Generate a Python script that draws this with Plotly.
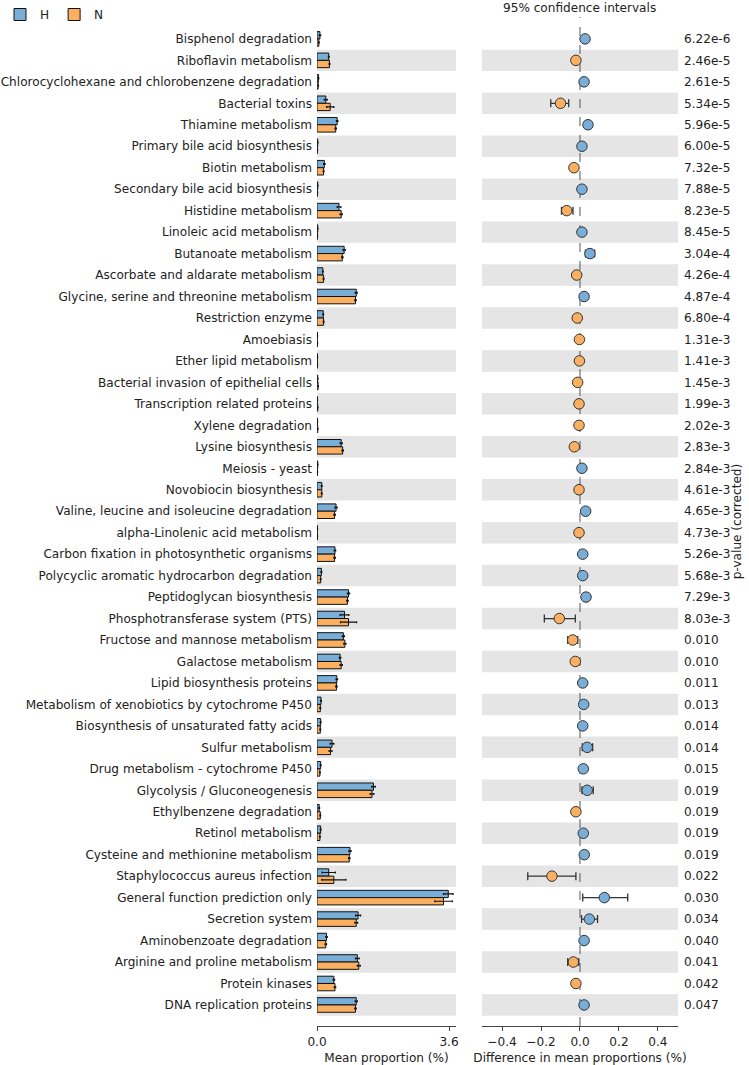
import plotly.graph_objects as go

pathways = [
    "Bisphenol degradation", "Riboflavin metabolism",
    "Chlorocyclohexane and chlorobenzene degradation", "Bacterial toxins",
    "Thiamine metabolism", "Primary bile acid biosynthesis", "Biotin metabolism",
    "Secondary bile acid biosynthesis", "Histidine metabolism",
    "Linoleic acid metabolism", "Butanoate metabolism",
    "Ascorbate and aldarate metabolism", "Glycine, serine and threonine metabolism",
    "Restriction enzyme", "Amoebiasis", "Ether lipid metabolism",
    "Bacterial invasion of epithelial cells", "Transcription related proteins",
    "Xylene degradation", "Lysine biosynthesis", "Meiosis - yeast",
    "Novobiocin biosynthesis", "Valine, leucine and isoleucine degradation",
    "alpha-Linolenic acid metabolism", "Carbon fixation in photosynthetic organisms",
    "Polycyclic aromatic hydrocarbon degradation", "Peptidoglycan biosynthesis",
    "Phosphotransferase system (PTS)", "Fructose and mannose metabolism",
    "Galactose metabolism", "Lipid biosynthesis proteins",
    "Metabolism of xenobiotics by cytochrome P450",
    "Biosynthesis of unsaturated fatty acids", "Sulfur metabolism",
    "Drug metabolism - cytochrome P450", "Glycolysis / Gluconeogenesis",
    "Ethylbenzene degradation", "Retinol metabolism",
    "Cysteine and methionine metabolism", "Staphylococcus aureus infection",
    "General function prediction only", "Secretion system",
    "Aminobenzoate degradation", "Arginine and proline metabolism",
    "Protein kinases", "DNA replication proteins",
]

mean_H = [0.08, 0.32, 0.04, 0.24, 0.55, 0.02, 0.20, 0.02, 0.60, 0.02,
          0.74, 0.16, 1.07, 0.17, 0.01, 0.01, 0.02, 0.01, 0.01, 0.66,
          0.02, 0.13, 0.52, 0.01, 0.49, 0.12, 0.86, 0.75, 0.72, 0.63,
          0.54, 0.11, 0.10, 0.41, 0.10, 1.54, 0.06, 0.10, 0.90, 0.32,
          3.58, 1.12, 0.26, 1.10, 0.46, 1.07]
mean_N = [0.05, 0.34, 0.03, 0.36, 0.51, 0.01, 0.18, 0.01, 0.66, 0.01,
          0.69, 0.18, 1.05, 0.18, 0.01, 0.01, 0.03, 0.02, 0.02, 0.70,
          0.01, 0.13, 0.48, 0.01, 0.48, 0.10, 0.83, 0.86, 0.76, 0.66,
          0.53, 0.09, 0.09, 0.37, 0.08, 1.50, 0.09, 0.08, 0.88, 0.46,
          3.45, 1.07, 0.24, 1.14, 0.49, 1.05]
sd_H = [0.02, 0.01, 0.01, 0.04, 0.02, 0.005, 0.02, 0.005, 0.05, 0.005,
        0.03, 0.01, 0.03, 0.01, 0.005, 0.005, 0.005, 0.005, 0.005, 0.03,
        0.005, 0.01, 0.03, 0.005, 0.02, 0.01, 0.03, 0.12, 0.03, 0.02,
        0.02, 0.01, 0.01, 0.05, 0.01, 0.05, 0.01, 0.01, 0.03, 0.18,
        0.13, 0.07, 0.02, 0.05, 0.02, 0.03]
sd_N = [0.01, 0.01, 0.01, 0.10, 0.02, 0.005, 0.01, 0.005, 0.03, 0.005,
        0.02, 0.01, 0.02, 0.01, 0.005, 0.005, 0.005, 0.005, 0.005, 0.02,
        0.005, 0.01, 0.02, 0.005, 0.02, 0.01, 0.02, 0.22, 0.03, 0.03,
        0.02, 0.01, 0.01, 0.04, 0.01, 0.05, 0.01, 0.01, 0.02, 0.33,
        0.24, 0.04, 0.02, 0.04, 0.02, 0.02]

diff = [0.026, -0.021, 0.021, -0.100, 0.041, 0.010, -0.031, 0.010, -0.068, 0.010,
        0.051, -0.017, 0.021, -0.014, -0.003, -0.003, -0.012, -0.005, -0.005, -0.029,
        0.010, -0.005, 0.029, -0.005, 0.014, 0.014, 0.031, -0.106, -0.037, -0.024,
        0.014, 0.019, 0.014, 0.037, 0.017, 0.037, -0.021, 0.017, 0.022, -0.144,
        0.125, 0.048, 0.021, -0.034, -0.021, 0.021]
ci_low = [0.020, -0.026, 0.016, -0.150, 0.030, 0.006, -0.037, 0.006, -0.095, 0.006,
          0.028, -0.022, 0.014, -0.019, -0.007, -0.007, -0.016, -0.009, -0.009, -0.036,
          0.006, -0.009, 0.018, -0.009, 0.009, 0.009, 0.022, -0.183, -0.063, -0.032,
          0.009, 0.013, 0.009, 0.012, 0.012, 0.010, -0.026, 0.012, 0.014, -0.268,
          0.014, 0.008, 0.015, -0.063, -0.027, 0.015]
ci_high = [0.032, -0.016, 0.026, -0.058, 0.052, 0.014, -0.025, 0.014, -0.036, 0.014,
           0.075, -0.012, 0.028, -0.009, 0.001, 0.001, -0.008, -0.001, -0.001, -0.022,
           0.014, -0.001, 0.040, -0.001, 0.019, 0.019, 0.040, -0.024, -0.012, -0.017,
           0.019, 0.025, 0.019, 0.065, 0.022, 0.068, -0.016, 0.022, 0.030, -0.021,
           0.245, 0.090, 0.027, -0.006, -0.015, 0.027]

p_values = ["6.22e-6", "2.46e-5", "2.61e-5", "5.34e-5", "5.96e-5", "6.00e-5", "7.32e-5",
            "7.88e-5", "8.23e-5", "8.45e-5", "3.04e-4", "4.26e-4", "4.87e-4", "6.80e-4",
            "1.31e-3", "1.41e-3", "1.45e-3", "1.99e-3", "2.02e-3", "2.83e-3", "2.84e-3",
            "4.61e-3", "4.65e-3", "4.73e-3", "5.26e-3", "5.68e-3", "7.29e-3", "8.03e-3",
            "0.010", "0.010", "0.011", "0.013", "0.014", "0.014", "0.015", "0.019",
            "0.019", "0.019", "0.019", "0.022", "0.030", "0.034", "0.040", "0.041",
            "0.042", "0.047"]

group_names = ["H", "N"]
group_colors = ["#78aed8", "#fbb061"]

idx = list(range(len(pathways)))
n = len(pathways)
FONT = "DejaVu Sans"
TXT = "#222222"
BAND = "#e5e5e5"
FS = 12.1

fig = go.Figure()

fig.add_trace(go.Bar(
    name=group_names[0], orientation="h", y=idx, x=mean_H,
    width=0.34, offset=-0.34,
    marker=dict(color=group_colors[0], line=dict(color="#111111", width=1)),
    error_x=dict(type="data", array=sd_H, color="#111111", thickness=1.2, width=1),
    xaxis="x", yaxis="y",
))
fig.add_trace(go.Bar(
    name=group_names[1], orientation="h", y=idx, x=mean_N,
    width=0.34, offset=0.0,
    marker=dict(color=group_colors[1], line=dict(color="#111111", width=1)),
    error_x=dict(type="data", array=sd_N, color="#111111", thickness=1.2, width=1),
    xaxis="x", yaxis="y",
))

pt_colors = [group_colors[0] if d > 0 else group_colors[1] for d in diff]
fig.add_trace(go.Scatter(
    x=diff, y=idx, mode="markers", showlegend=False,
    marker=dict(size=10.5, color=pt_colors, line=dict(color="#333333", width=1)),
    error_x=dict(type="data", symmetric=False,
                 array=[h - d for h, d in zip(ci_high, diff)],
                 arrayminus=[d - l for d, l in zip(diff, ci_low)],
                 color="#333333", thickness=1.3, width=4),
    xaxis="x2", yaxis="y2",
))

shapes = []
for i in idx:
    if i % 2 == 1:
        for xr, yr in (("x domain", "y"), ("x2 domain", "y2")):
            shapes.append(dict(type="rect", xref=xr, yref=yr, x0=0, x1=1,
                               y0=i - 0.5, y1=i + 0.5, fillcolor=BAND,
                               line=dict(width=0), layer="below"))
shapes.append(dict(type="line", xref="x2", yref="y2 domain", x0=0, x1=0, y0=0, y1=1,
                   line=dict(color="#555555", width=1, dash="dash"), layer="below"))

yrange = [n - 0.02, -1.02]

fig.update_layout(
    width=749, height=1065,
    margin=dict(l=317, r=71, t=17, b=39, autoexpand=False),
    paper_bgcolor="white", plot_bgcolor="white",
    font=dict(family=FONT, size=FS, color=TXT),
    barmode="overlay",
    shapes=shapes,
    showlegend=True,
    legend=dict(orientation="h", xref="container", yref="container",
                x=0.0, y=1.0, xanchor="left", yanchor="top",
                font=dict(size=FS), itemwidth=30, bgcolor="rgba(0,0,0,0)",
                traceorder="normal"),
    xaxis=dict(domain=[0, 0.385], range=[0, 3.79], tickvals=[0, 3.6],
               ticktext=["0.0", "3.6"], showgrid=False, zeroline=False,
               showline=True, linecolor="#444444", linewidth=1,
               ticks="outside", ticklen=4, tickcolor="#444444",
               title=dict(text="Mean proportion (%)", font=dict(size=FS), standoff=6)),
    xaxis2=dict(domain=[0.457, 1], range=[-0.503, 0.503],
                tickvals=[-0.4, -0.2, 0.0, 0.2, 0.4],
                ticktext=["\u22120.4", "\u22120.2", "0.0", "0.2", "0.4"],
                showgrid=False, zeroline=False, showline=True,
                linecolor="#444444", linewidth=1, ticks="outside", ticklen=4,
                tickcolor="#444444", anchor="y2",
                title=dict(text="Difference in mean proportions (%)",
                           font=dict(size=FS), standoff=6)),
    yaxis=dict(range=yrange, tickvals=idx, ticktext=pathways, showgrid=False,
               zeroline=False, showline=False, ticks="", ticklabelstandoff=4,
               anchor="x"),
    yaxis2=dict(range=yrange, tickvals=idx, ticktext=p_values, showgrid=False,
                zeroline=False, showline=False, ticks="", side="right",
                anchor="x2", ticklabelstandoff=5,
                title=dict(text="p-value (corrected)", font=dict(size=FS), standoff=2)),
    annotations=[dict(text="95% confidence intervals", xref="x2 domain", yref="paper",
                      x=0.5, y=1, xanchor="center", yanchor="bottom", yshift=0,
                      showarrow=False, font=dict(size=FS))],
)

fig.write_html("out.html", config={"displayModeBar": False},
               post_script="document.body.style.margin='0';")
